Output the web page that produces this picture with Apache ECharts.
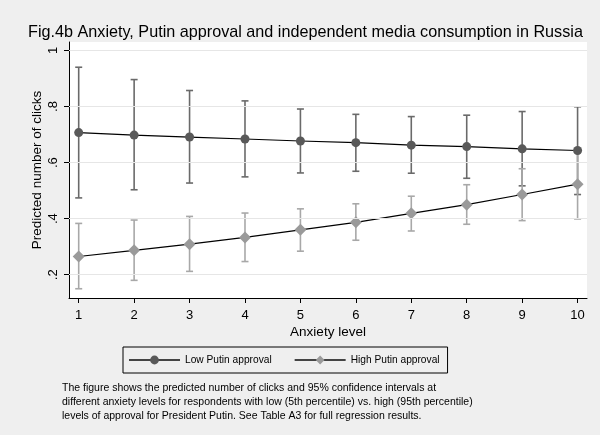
<!DOCTYPE html>
<html><head><meta charset="utf-8">
<script src="https://cdn.jsdelivr.net/npm/echarts@6/dist/echarts.min.js"></script>
<style>html,body{margin:0;padding:0;background:#efefef}#c{width:600px;height:435px}</style>
</head><body><div id="c"></div>
<script>
var anxiety = [1,2,3,4,5,6,7,8,9,10];
var lowPred  = [0.707,0.698,0.691,0.684,0.677,0.671,0.662,0.657,0.649,0.643];
var lowLo    = [0.474,0.503,0.527,0.549,0.563,0.569,0.562,0.544,0.517,0.486];
var lowHi    = [0.940,0.896,0.857,0.820,0.791,0.772,0.764,0.769,0.782,0.799];
var highPred = [0.265,0.287,0.309,0.333,0.360,0.387,0.419,0.450,0.486,0.523];
var highLo   = [0.150,0.180,0.212,0.247,0.284,0.323,0.356,0.380,0.393,0.399];
var highHi   = [0.383,0.395,0.408,0.420,0.435,0.453,0.480,0.521,0.578,0.646];
var yTicks = [0.2,0.4,0.6,0.8,1];
var yTickLabels = ['.2','.4','.6','.8','1'];
var seriesNames = ['Low Putin approval','High Putin approval'];
var titleText = 'Fig.4b Anxiety, Putin approval and independent media consumption in Russia';
var noteText = 'The figure shows the predicted number of clicks and 95% confidence intervals at\ndifferent anxiety levels for respondents with low (5th percentile) vs. high (95th percentile)\nlevels of approval for President Putin. See Table A3 for full regression results.';

var FONT = '"Liberation Sans", Arial, sans-serif';
function pairs(xs, ys){ return xs.map(function(x,i){return [x, ys[i]];}); }
function bars(xs, lo, hi){ return xs.map(function(x,i){return [x, lo[i], hi[i]];}); }
function errRender(color){
  return function(params, api){
    var x = api.value(0);
    var p1 = api.coord([x, api.value(1)]);
    var p2 = api.coord([x, api.value(2)]);
    var w = 3.5;
    var st = {stroke: color, lineWidth: 1.6};
    return {type:'group', children:[
      {type:'line', shape:{x1:p1[0],y1:p1[1],x2:p2[0],y2:p2[1]}, style:st},
      {type:'line', shape:{x1:p1[0]-w,y1:p1[1],x2:p1[0]+w,y2:p1[1]}, style:st},
      {type:'line', shape:{x1:p2[0]-w,y1:p2[1],x2:p2[0]+w,y2:p2[1]}, style:st}
    ]};
  };
}
var chart = echarts.init(document.getElementById('c'), null, {renderer:'canvas'});
chart.setOption({
  backgroundColor:'#efefef',
  animation:false,
  textStyle:{fontFamily:FONT},
  title:{text:titleText, left:28, top:25, padding:0,
    textStyle:{fontFamily:FONT, fontSize:16.2, fontWeight:'normal', color:'#000'}},
  grid:{left:69, right:13, top:42, bottom:137, show:true, backgroundColor:'#fff', borderWidth:0},
  legend:{data:[
      {name:seriesNames[0], lineStyle:{color:'#444'}},
      {name:seriesNames[1], lineStyle:{color:'#444'}}],
    left:123, top:347, orient:'horizontal',
    borderColor:'#000', borderWidth:1, padding:[8,8,8,5], itemGap:22,
    itemWidth:51, itemHeight:11,
    textStyle:{fontFamily:FONT, fontSize:10.2, color:'#000'}},
  xAxis:{type:'value', min:0.825, max:10.17,
    name:'Anxiety level', nameLocation:'middle', nameGap:27, nameMoveOverlap:false,
    nameTextStyle:{fontFamily:FONT, fontSize:13.5, color:'#000'},
    axisLine:{show:true, onZero:false, lineStyle:{color:'#000', width:1}},
    axisTick:{show:true, length:5, customValues:anxiety, lineStyle:{color:'#000'}},
    axisLabel:{customValues:anxiety, margin:11, fontFamily:FONT, fontSize:13, color:'#000'},
    splitLine:{show:false}},
  yAxis:{type:'value', min:0.117, max:1.03,
    name:'Predicted number of clicks', nameLocation:'middle', nameGap:25, nameMoveOverlap:false,
    nameTextStyle:{fontFamily:FONT, fontSize:13.5, color:'#000'},
    axisLine:{show:true, onZero:false, lineStyle:{color:'#000', width:1}},
    axisTick:{show:true, length:5, customValues:yTicks, lineStyle:{color:'#000'}},
    axisLabel:{customValues:yTicks, rotate:90, margin:9, fontFamily:FONT, fontSize:13, color:'#000',
      formatter:function(v){ var i = yTicks.indexOf(Math.round(v*10)/10); return i>=0 ? yTickLabels[i] : ''; }},
    splitLine:{show:false}},
  series:[
    {type:'line', name:'grid', data:[], silent:true, z:1,
      markLine:{silent:true, symbol:'none', label:{show:false},
        lineStyle:{color:'#e6e6e6', width:1, type:'solid'},
        data: yTicks.map(function(t){return {yAxis:t};})}},
    {type:'custom', name:'lowErr', renderItem:errRender('#6a6a6a'), data:bars(anxiety, lowLo, lowHi), z:2, silent:true},
    {type:'custom', name:'highErr', renderItem:errRender('#a8a8a8'), data:bars(anxiety, highLo, highHi), z:2, silent:true},
    {type:'line', name:seriesNames[0], data:pairs(anxiety, lowPred), z:3,
      symbol:'circle', symbolSize:9, showAllSymbol:true,
      itemStyle:{color:'#595959'}, lineStyle:{color:'#000', width:1.2}},
    {type:'line', name:seriesNames[1], data:pairs(anxiety, highPred), z:3,
      symbol:'diamond', symbolSize:12, showAllSymbol:true,
      itemStyle:{color:'#9a9a9a'}, lineStyle:{color:'#000', width:1.2}}
  ],
  graphic:[{type:'text', left:62, top:381,
    style:{text:noteText, font:'10.5px '+FONT, fill:'#000', lineHeight:14}}]
});
</script></body></html>
